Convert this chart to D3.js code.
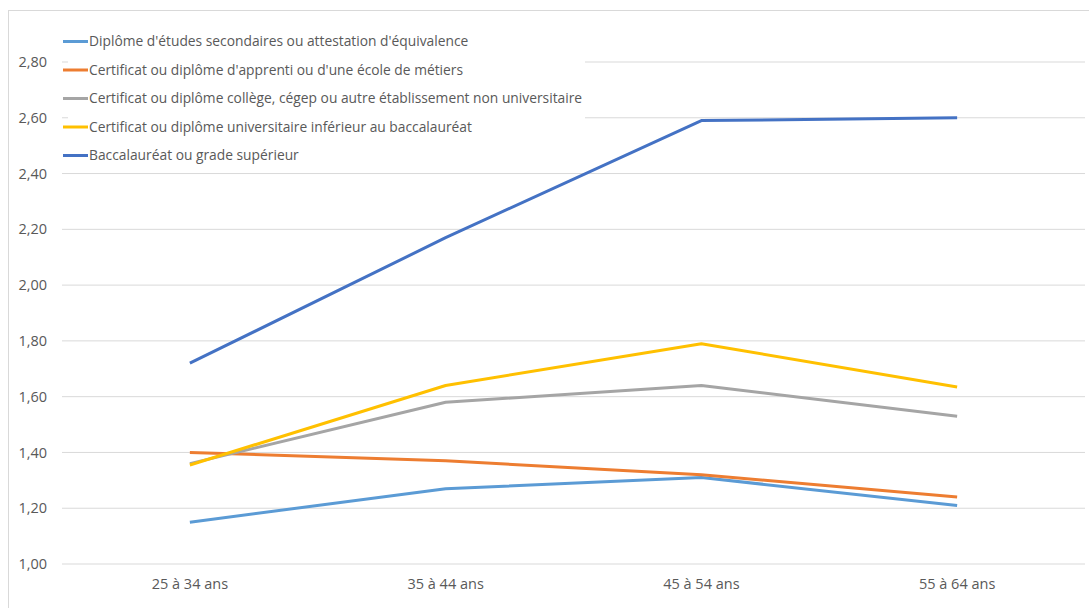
<!DOCTYPE html>
<head>
    <meta charset="utf-8">
    <script src="https://d3js.org/d3.v7.min.js"></script>
    <style>
        body { margin: 0; background: #fff; }
        text { font-family: "Open Sans", "Liberation Sans", sans-serif; fill: #595959; }
    </style>
</head>

<body>
    <div id="linechart"></div>
</body>

<script>

    // data
    const categories = ["25 à 34 ans", "35 à 44 ans", "45 à 54 ans", "55 à 64 ans"];
    const seriesNames = [
        "Diplôme d'études secondaires ou attestation d'équivalence",
        "Certificat ou diplôme d'apprenti ou d'une école de métiers",
        "Certificat ou diplôme collège, cégep ou autre établissement non universitaire",
        "Certificat ou diplôme universitaire inférieur au baccalauréat",
        "Baccalauréat ou grade supérieur"
    ];
    const secondaire = [1.15, 1.27, 1.31, 1.21];
    const apprenti = [1.40, 1.37, 1.32, 1.24];
    const college = [1.36, 1.58, 1.64, 1.53];
    const univInf = [1.355, 1.64, 1.79, 1.635];
    const bac = [1.72, 2.17, 2.59, 2.60];
    const yTicks = [1.0, 1.2, 1.4, 1.6, 1.8, 2.0, 2.2, 2.4, 2.6, 2.8];

    const seriesValues = [secondaire, apprenti, college, univInf, bac];
    const colors = ["#5B9BD5", "#ED7D31", "#A5A5A5", "#FFC000", "#4472C4"];

    const W = 1089, H = 608;
    const margin = {top: 62, right: 4, bottom: 44, left: 62};
    const width = W - margin.left - margin.right,
        height = H - margin.top - margin.bottom;

    const root = d3.select("#linechart")
        .append("svg")
            .attr("width", W)
            .attr("height", H);

    // chart frame
    root.append("rect")
        .attr("x", 8.5).attr("y", 10.5)
        .attr("width", W + 10).attr("height", H + 10)
        .attr("fill", "none")
        .attr("stroke", "#D9D9D9");

    const svg = root.append("g")
        .attr("transform", `translate(${margin.left},${margin.top})`);

    const x = d3.scaleBand()
        .domain(categories)
        .range([0, width]);

    const y = d3.scaleLinear()
        .domain([1.0, 2.8])
        .range([height, 0]);

    // gridlines
    svg.append("g")
        .selectAll("line")
        .data(yTicks)
        .join("line")
            .attr("x1", 0).attr("x2", width)
            .attr("y1", d => y(d)).attr("y2", d => y(d))
            .attr("stroke", "#D9D9D9")
            .attr("stroke-width", 1);

    // Y axis labels
    const fmt = d => d3.format(".2f")(d).replace(".", ",");
    const yAxis = svg.append("g")
        .call(d3.axisLeft(y).tickValues(yTicks).tickFormat(fmt).tickSize(0).tickPadding(15));
    yAxis.select(".domain").remove();
    yAxis.selectAll("text")
        .style("font-size", "14.5px")
        .style("font-family", "Open Sans")
        .attr("fill", "#595959");

    // X axis labels
    const xAxis = svg.append("g")
        .attr("transform", `translate(0, ${height})`)
        .call(d3.axisBottom(x).tickSize(0).tickPadding(15));
    xAxis.select(".domain").remove();
    xAxis.selectAll("text")
        .style("font-size", "14.5px")
        .style("font-family", "Open Sans")
        .attr("fill", "#595959");

    // lines
    const line = d3.line()
        .x((d, i) => x(categories[i]) + x.bandwidth() / 2)
        .y(d => y(d));

    svg.selectAll(".line")
        .data(seriesValues)
        .join("path")
            .attr("fill", "none")
            .attr("stroke", (d, i) => colors[i])
            .attr("stroke-width", 3)
            .attr("stroke-linejoin", "round")
            .attr("d", d => line(d));

    // legend
    const legend = root.append("g");
    legend.append("rect")
        .attr("x", 68).attr("y", 28)
        .attr("width", 517).attr("height", 142)
        .attr("fill", "#fff");

    const rows = legend.selectAll(".row")
        .data(seriesNames)
        .join("g")
            .attr("transform", (d, i) => `translate(63, ${41.5 + i * 28.5})`);

    rows.append("line")
        .attr("x1", 0).attr("x2", 25)
        .attr("y1", 0).attr("y2", 0)
        .attr("stroke", (d, i) => colors[i])
        .attr("stroke-width", 3);

    rows.append("text")
        .attr("x", 26)
        .attr("y", 0)
        .attr("dy", "0.35em")
        .style("font-size", "13.8px")
        .text(d => d);

</script>
</html>
